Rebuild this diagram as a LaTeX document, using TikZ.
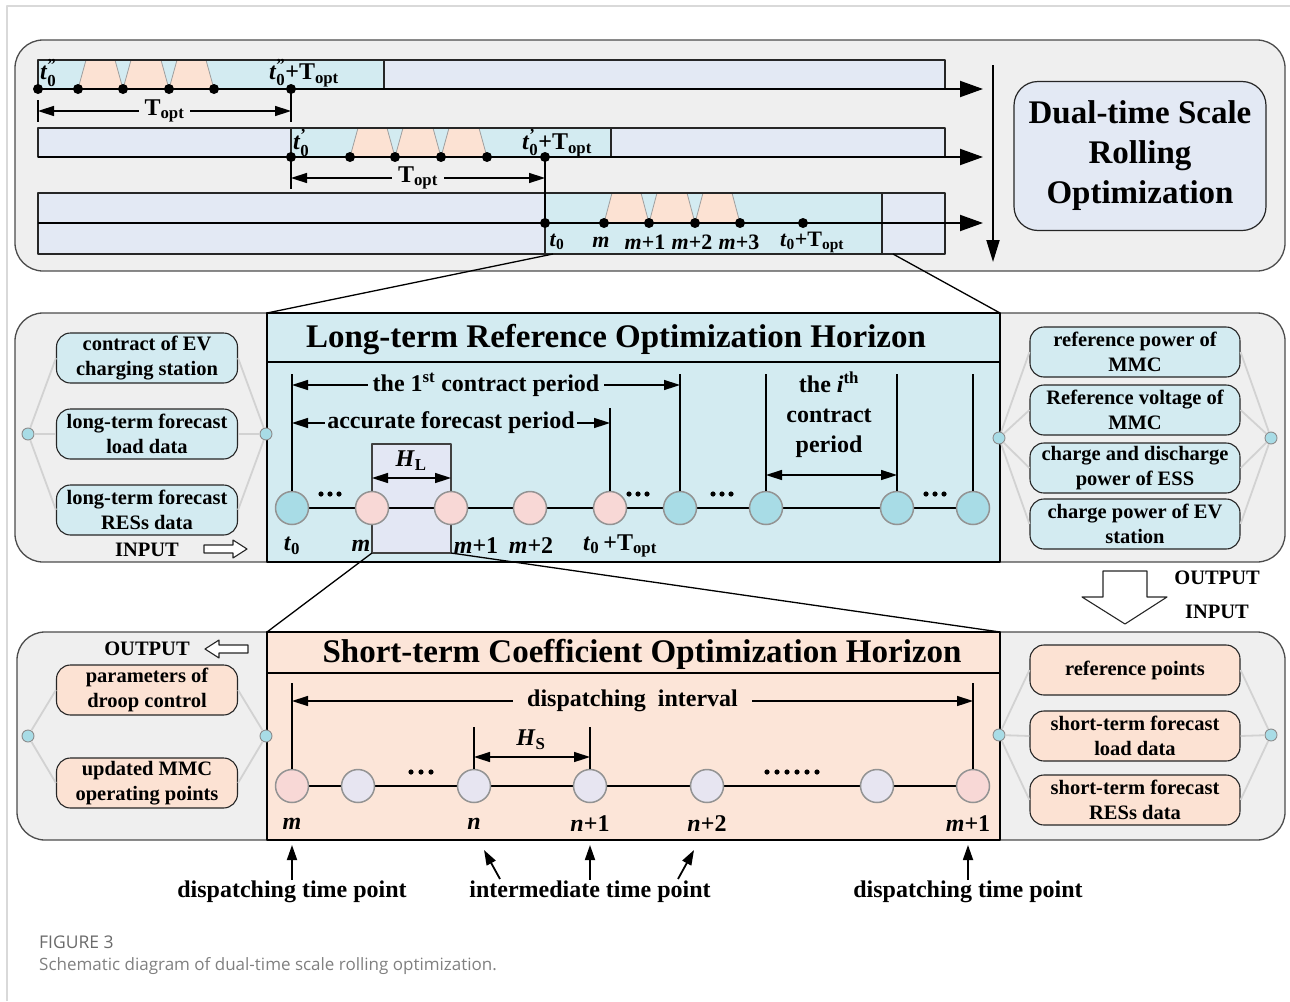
\documentclass[tikz,border=0pt]{standalone}
\usepackage{amsmath}
\usepackage{fontspec}
\setmainfont{Liberation Serif}
\newfontfamily\capfont{Open Sans}
\usetikzlibrary{arrows.meta,positioning}

\definecolor{panelgray}{HTML}{EFEFEF}
\definecolor{framegray}{HTML}{D9D9D9}
\definecolor{barblue}{HTML}{E3E9F4}
\definecolor{barcyan}{HTML}{D3EBF1}
\definecolor{peach}{HTML}{FCE2D3}
\definecolor{peachbox}{HTML}{FCE5D8}
\definecolor{ballcyan}{HTML}{A8DCE6}
\definecolor{ballpink}{HTML}{F8D8D6}
\definecolor{balllav}{HTML}{E7E5F1}
\definecolor{hlfill}{HTML}{E3E7F4}
\definecolor{linkgray}{HTML}{D2D2D2}
\definecolor{capgray}{HTML}{6A6A6A}

\newcommand{\Topt}{T\textsubscript{opt}}
\newcommand{\tnot}{\textit{t}\textsubscript{0}}
\newcommand{\tprime}[1]{$\text{\textit{t}}^{\text{#1}}_{\text{0}}$}

\tikzset{
  panel/.style={draw=black!70,fill=panelgray,line width=1.3pt,rounded corners=28pt},
  horizon/.style={draw=black,line width=2.6pt,minimum width=733pt,anchor=north west,inner sep=0pt,outer sep=0pt},
  htitle/.style={font=\fontsize{33}{38}\selectfont\bfseries},
  bar/.style={draw=black!85,line width=1.2pt},
  trap/.style={fill=peach,draw=gray!75,line width=0.8pt},
  tdot/.style={circle,fill=black,inner sep=0pt,minimum size=10pt},
  tball/.style={circle,draw=gray!85,line width=1.5pt,inner sep=0pt,minimum size=33pt},
  hub/.style={circle,draw=gray!90,fill=ballcyan,line width=0.9pt,inner sep=0pt,minimum size=12pt},
  link/.style={draw=linkgray,line width=1.8pt},
  databox/.style={draw=black!85,line width=1.1pt,rounded corners=14pt,minimum height=50pt,align=center,inner sep=1pt,font=\fontsize{20.5}{25}\selectfont\bfseries},
  lbl/.style={font=\fontsize{24}{30}\selectfont\bfseries,inner sep=1pt},
  slbl/.style={font=\fontsize{22}{26}\selectfont\bfseries,inner sep=1pt},
  iolbl/.style={font=\fontsize{20.5}{24}\selectfont\bfseries,inner sep=1pt},
  bigaxis/.style={line width=2pt,-{Triangle[length=23pt,width=16pt]}},
  dimarrow/.style={line width=1.5pt,{Triangle[length=16pt,width=10pt]}-{Triangle[length=16pt,width=10pt]}},
  tick/.style={line width=1.5pt},
  ptarrow/.style={line width=1.8pt,-{Triangle[length=15pt,width=10pt]}},
  hollow/.style={draw=black!85,fill=white,line width=1.1pt},
  zoomline/.style={line width=1.3pt}
}

\begin{document}
\begin{tikzpicture}[x=1pt,y=-1pt,line join=round]
\useasboundingbox (0,0) rectangle (1290,1001);
\draw[framegray,line width=1.2pt] (7,1001) -- (7,6) -- (1290,6);

% ---------------- rolling windows
\draw[panel] (15,40) rectangle (1285,271);

% window 1
\fill[barblue] (38,60) rectangle (945,89);
\fill[barcyan] (38,60) rectangle (384,89);
\foreach \a/\b in {78/123,123/169,169/214}
  \draw[trap] (\a,89) -- (\a+8,60) -- (\b-8,60) -- (\b,89) -- cycle;
\draw[bar] (38,60) rectangle (945,89) (384,60) -- (384,89);
\foreach \x [count=\i] in {38,78,123,169,214,291}
  \node[tdot] (wa\i) at (\x,89) {};
\coordinate (waend) at (983,89);
\draw[bigaxis] (wa1.center) -- (waend);
\node[lbl,anchor=west] (wat) at (39,73) {\tprime{''}};
\node[lbl] (watopt) at (304,73) {\tprime{''}+\Topt};

\coordinate (da1) at (38,111);
\coordinate (da2) at (291,111);
\draw[tick] ([yshift=11pt]da1) -- ([yshift=-11pt]da1);
\draw[tick] (wa6.center) -- ([yshift=-11pt]da2);
\draw[dimarrow] (da1) -- (da2) node[midway,lbl,fill=panelgray,inner xsep=6pt] (dla) {\Topt};

% window 2
\fill[barblue] (38,128) rectangle (945,157);
\fill[barcyan] (291,128) rectangle (611,157);
\foreach \a/\b in {350/395,395/441,441/487}
  \draw[trap] (\a,157) -- (\a+8,128) -- (\b-8,128) -- (\b,157) -- cycle;
\draw[bar] (38,128) rectangle (945,157) (291,128) -- (291,157) (611,128) -- (611,157);
\foreach \x [count=\i] in {291,350,395,441,487,545}
  \node[tdot] (wb\i) at (\x,157) {};
\coordinate (wbend) at (983,157);
\draw[bigaxis] (38,157) -- (wbend);
\node[lbl,anchor=west] (wbt) at (292,143) {\tprime{'}};
\node[lbl] (wbtopt) at (557,143) {\tprime{'}+\Topt};

\coordinate (db1) at (291,178);
\coordinate (db2) at (545,178);
\draw[tick] (wb1.center) -- ([yshift=-11pt]db1);
\draw[dimarrow] (db1) -- (db2) node[midway,lbl,fill=panelgray,inner xsep=6pt] (dlb) {\Topt};

% window 3
\fill[barblue] (38,193) rectangle (945,254);
\fill[barcyan] (545,193) rectangle (882,254);
\foreach \a/\b in {604/649,649/695,695/740}
  \draw[trap] (\a,223) -- (\a+8,193) -- (\b-8,193) -- (\b,223) -- cycle;
\draw[bar] (38,193) rectangle (945,254) (545,193) -- (545,254) (882,193) -- (882,254);
\foreach \x [count=\i] in {545,604,649,695,740,803}
  \node[tdot] (wc\i) at (\x,223) {};
\draw[tick] (wb6.center) -- (wc1.center);
\coordinate (wcend) at (983,223);
\draw[bigaxis] (38,223) -- (wcend);
\node[slbl] (wct0) at (557,242) {\tnot};
\node[slbl] (wcm) at (601,242) {\textit{m}};
\node[slbl] (wcm1) at (645,242) {\textit{m}+1};
\node[slbl] (wcm2) at (692,242) {\textit{m}+2};
\node[slbl] (wcm3) at (739,242) {\textit{m}+3};
\node[slbl] (wctopt) at (812,242) {\tnot+\Topt};

% rolling direction
\coordinate (vtop) at (993,65);
\coordinate (vbot) at (993,262);
\draw[line width=2pt,-{Triangle[length=22pt,width=13pt]}] (vtop) -- (vbot);
\node[draw=black!85,fill=barblue,line width=1.2pt,rounded corners=24pt,minimum width=252pt,minimum height=149pt,align=center,font=\fontsize{33}{40}\selectfont\bfseries] (dual) at (1140,156) {Dual-time Scale\\Rolling\\Optimization};

% ---------------- long-term horizon
\draw[panel] (15,313) rectangle (1285,562);
\node[horizon,fill=barcyan,minimum height=249pt] (lth) at (267,313) {};
\coordinate (lsep) at (267,362);
\draw[line width=2.6pt] (lsep) -- (lsep -| lth.east);
\node[htitle] (ltitle) at (616,340) {Long-term Reference Optimization Horizon};
\coordinate (z1) at (553,254);
\coordinate (z2) at (893,254);
\draw[zoomline] (z1) -- (lth.north west) (z2) -- (lth.north east);

\node[draw=black!75,fill=hlfill,line width=1.2pt,minimum width=79pt,minimum height=109pt,anchor=north west,outer sep=0pt] (hl) at (372,444) {};
\coordinate (lt0) at (292,508);
\coordinate (lt1) at (973,508);
\draw[line width=1.6pt] (lt0) -- (lt1);
\foreach \x/\c [count=\i] in {292/ballcyan,372/ballpink,451/ballpink,530/ballpink,610/ballpink,680/ballcyan,766/ballcyan,897/ballcyan,973/ballcyan}
  \node[tball,fill=\c] (mc\i) at (\x,508) {};
\coordinate (ltop) at (0,374);
\coordinate (lacc) at (0,408);
\foreach \i in {1,6,7,8,9}
  \draw[tick] (mc\i.north) -- (mc\i.north |- ltop);
\draw[tick] (mc5.north) -- (mc5.north |- lacc);

\coordinate (l1st) at (0,385);
\draw[dimarrow] (mc1 |- l1st) -- (mc6 |- l1st) node[midway,lbl,fill=barcyan,inner xsep=5pt] (lfirst) {the 1\textsuperscript{st} contract period};
\coordinate (lacy) at (0,423);
\draw[dimarrow] (mc1 |- lacy) -- (mc5 |- lacy) node[midway,lbl,fill=barcyan,inner xsep=2pt] (laccl) {accurate forecast period};
\node[lbl,align=center] (lith) at (829,415) {the \textit{i}\textsuperscript{th}\\contract\\period};
\coordinate (lity) at (0,475);
\draw[dimarrow] (mc7 |- lity) -- (mc8 |- lity);
\coordinate (lhy) at (0,478);
\draw[dimarrow] (hl.west |- lhy) -- (hl.east |- lhy);
\node[lbl] (hlt) at (411,461) {\textit{H}\textsubscript{L}};
\foreach \x in {330,638,722,935}
  \foreach \k in {-9,0,9}
    \fill (\x+\k,494) circle (2.6pt);

\node[lbl] (lbt0) at (292,546) {\tnot};
\node[lbl] (lbm) at (361,546) {\textit{m}};
\node[lbl] (lbm1) at (476,546) {\textit{m}+1};
\node[lbl] (lbm2) at (531,546) {\textit{m}+2};
\node[lbl] (lbtopt) at (620,546) {\tnot\,+\Topt};

% long-term inputs
\node[hub] (lhl) at (28,434) {};
\node[hub] (lhr) at (266,434) {};
\foreach \y/\t [count=\i] in {358/{contract of EV\\charging station},434/{long-term forecast\\load data},510/{long-term forecast\\RESs data}}
  \node[databox,fill=barcyan,minimum width=181pt] (lin\i) at (147,\y) {\t};
\foreach \i in {1,2,3}
  \draw[link] (lhl) -- (lin\i.west) (lin\i.east) -- (lhr);
\node[iolbl] (inlbl) at (147,550) {INPUT};
\draw[hollow] (204,545) -- (233,545) -- (233,540) -- (247,549) -- (233,558) -- (233,553) -- (204,553) -- cycle;

% long-term outputs
\node[hub] (rhl) at (999,438) {};
\node[hub] (rhr) at (1271,438) {};
\foreach \y/\t [count=\i] in {352/{reference power of\\MMC},410/{Reference voltage of\\MMC},468/{charge and discharge\\power of ESS},524/{charge power of EV\\station}}
  \node[databox,fill=barcyan,minimum width=210pt] (lout\i) at (1135,\y) {\t};
\foreach \i in {1,2,3,4}
  \draw[link] (rhl) -- (lout\i.west) (lout\i.east) -- (rhr);

% hand over
\draw[hollow] (1103,571) -- (1147,571) -- (1147,597) -- (1167,597) -- (1125,624) -- (1082,597) -- (1103,597) -- cycle;
\node[iolbl] (outlbl) at (1217,578) {OUTPUT};
\node[iolbl] (inlbl2) at (1217,612) {INPUT};

% ---------------- short-term horizon
\draw[panel] (17,632) rectangle (1285,840);
\node[horizon,fill=peachbox,minimum height=208pt] (sth) at (267,632) {};
\coordinate (ssep) at (267,673);
\draw[line width=2.6pt] (ssep) -- (ssep -| sth.east);
\node[htitle] (stitle) at (642,654) {Short-term Coefficient Optimization Horizon};
\draw[zoomline] (hl.south west) -- (sth.north west) (hl.south east) -- (sth.north east);

\coordinate (st0) at (292,786);
\coordinate (st1) at (973,786);
\draw[line width=1.6pt] (st0) -- (st1);
\foreach \x/\c [count=\i] in {292/ballpink,358/balllav,474/balllav,590/balllav,707/balllav,877/balllav,973/ballpink}
  \node[tball,fill=\c] (sc\i) at (\x,786) {};
\coordinate (stop) at (0,683);
\coordinate (shs) at (0,727);
\draw[tick] (sc1.north) -- (sc1.north |- stop);
\draw[tick] (sc7.north) -- (sc7.north |- stop);
\draw[tick] (sc3.north) -- (sc3.north |- shs);
\draw[tick] (sc4.north) -- (sc4.north |- shs);
\coordinate (sdy) at (0,701);
\draw[dimarrow] (sc1 |- sdy) -- (sc7 |- sdy) node[midway,lbl,fill=peachbox,inner xsep=14pt] (sdisp) {dispatching~~interval};
\coordinate (shy) at (0,757);
\draw[dimarrow] (sc3 |- shy) -- (sc4 |- shy);
\node[lbl] (hst) at (531,740) {\textit{H}\textsubscript{S}};
\foreach \k in {-10,0,10}
  \fill (421+\k,772) circle (2.6pt);
\foreach \k in {0,...,5}
  \fill (767+10*\k,772) circle (2.6pt);

\node[lbl] (sbm) at (292,824) {\textit{m}};
\node[lbl] (sbn) at (474,824) {\textit{n}};
\node[lbl] (sbn1) at (590,824) {\textit{n}+1};
\node[lbl] (sbn2) at (707,824) {\textit{n}+2};
\node[lbl] (sbm1) at (968,824) {\textit{m}+1};

% time point kinds
\node[lbl] (dtp1) at (292,892) {dispatching time point};
\node[lbl] (itp) at (590,892) {intermediate time point};
\node[lbl] (dtp2) at (968,892) {dispatching time point};
\coordinate (pa1) at (292,845);
\coordinate (pa2) at (590,845);
\coordinate (pa3) at (968,845);
\coordinate (ia1) at (500,879);
\coordinate (ia1e) at (484,850);
\coordinate (ia2) at (678,879);
\coordinate (ia2e) at (694,850);
\draw[ptarrow] (dtp1.north) -- (pa1);
\draw[ptarrow] (itp.north) -- (pa2);
\draw[ptarrow] (dtp2.north) -- (pa3);
\draw[ptarrow] (ia1) -- (ia1e);
\draw[ptarrow] (ia2) -- (ia2e);

% short-term outputs
\node[iolbl] (outlbl2) at (147,649) {OUTPUT};
\draw[hollow] (248,645) -- (219,645) -- (219,640) -- (205,649) -- (219,658) -- (219,653) -- (248,653) -- cycle;
\node[hub] (shl) at (28,736) {};
\node[hub] (shr) at (266,736) {};
\foreach \y/\t [count=\i] in {690/{parameters of\\droop control},783/{updated MMC\\operating points}}
  \node[databox,fill=peach,minimum width=181pt] (sout\i) at (147,\y) {\t};
\foreach \i in {1,2}
  \draw[link] (shl) -- (sout\i.west) (sout\i.east) -- (shr);

% short-term inputs
\node[hub] (srl) at (999,735) {};
\node[hub] (srr) at (1271,735) {};
\foreach \y/\t [count=\i] in {670/{reference points},736/{short-term forecast\\load data},800/{short-term forecast\\RESs data}}
  \node[databox,fill=peach,minimum width=210pt] (sin\i) at (1135,\y) {\t};
\foreach \i in {1,2,3}
  \draw[link] (srl) -- (sin\i.west) (sin\i.east) -- (srr);

% caption
\node[anchor=west,inner sep=0pt,text=capgray,font=\capfont\fontsize{17.5}{20}\selectfont] (capa) at (39,942) {FIGURE 3};
\node[anchor=west,inner sep=0pt,text=capgray!85,font=\capfont\fontsize{17}{20}\selectfont] (capb) at (39,966) {Schematic diagram of dual-time scale rolling optimization.};
\end{tikzpicture}
\end{document}
